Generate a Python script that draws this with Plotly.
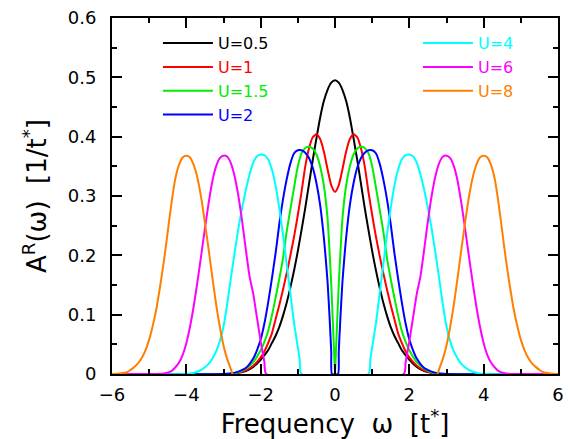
import plotly.graph_objects as go

# ---- data ----
labels = ["U=0.5", "U=1", "U=1.5", "U=2", "U=4", "U=6", "U=8"]
colors = ["#000000", "#ff0000", "#00ee00", "#0000ff", "#00ffff", "#ff00ff", "#ff7f00"]

w_u05 = [-6.0, -2.8, -2.6, -2.4, -2.2, -2.0, -1.8, -1.7, -1.6, -1.5, -1.4, -1.3, -1.2, -1.1, -1.0, -0.9, -0.8, -0.7, -0.6, -0.5, -0.4, -0.3, -0.2, -0.1,
         0.0, 0.1, 0.2, 0.3, 0.4, 0.5, 0.6, 0.7, 0.8, 0.9, 1.0, 1.1, 1.2, 1.3, 1.4, 1.5, 1.6, 1.7, 1.8, 2.0, 2.2, 2.4, 2.6, 2.8, 6.0]
a_u05 = [0.0, 0.0, 0.002, 0.005, 0.012, 0.024, 0.040, 0.052, 0.064, 0.079, 0.098, 0.120, 0.146, 0.175, 0.207, 0.243, 0.280, 0.320, 0.360, 0.397, 0.432, 0.460, 0.479, 0.491,
         0.495, 0.491, 0.479, 0.460, 0.432, 0.397, 0.360, 0.320, 0.280, 0.243, 0.207, 0.175, 0.146, 0.120, 0.098, 0.079, 0.064, 0.052, 0.040, 0.024, 0.012, 0.005, 0.002, 0.0, 0.0]

w_u1 = [-6.0, -2.8, -2.6, -2.4, -2.2, -2.0, -1.9, -1.8, -1.7, -1.6, -1.5, -1.4, -1.3, -1.2, -1.1, -1.0, -0.9, -0.8, -0.7, -0.6, -0.5, -0.4, -0.3, -0.2, -0.1,
        0.0, 0.1, 0.2, 0.3, 0.4, 0.5, 0.6, 0.7, 0.8, 0.9, 1.0, 1.1, 1.2, 1.3, 1.4, 1.5, 1.6, 1.7, 1.8, 1.9, 2.0, 2.2, 2.4, 2.6, 2.8, 6.0]
a_u1 = [0.0, 0.0, 0.002, 0.006, 0.014, 0.028, 0.038, 0.052, 0.068, 0.092, 0.116, 0.142, 0.170, 0.200, 0.232, 0.268, 0.307, 0.350, 0.380, 0.399, 0.404, 0.396, 0.375, 0.345, 0.318,
        0.307, 0.318, 0.345, 0.375, 0.396, 0.404, 0.399, 0.380, 0.350, 0.307, 0.268, 0.232, 0.200, 0.170, 0.142, 0.116, 0.092, 0.068, 0.052, 0.038, 0.028, 0.014, 0.006, 0.002, 0.0, 0.0]

w_u15 = [-6.0, -3.0, -2.8, -2.6, -2.4, -2.2, -2.0, -1.9, -1.8, -1.7, -1.6, -1.5, -1.4, -1.3, -1.2, -1.1, -1.0, -0.9, -0.8, -0.7, -0.6, -0.5, -0.4, -0.3, -0.2, -0.15, -0.1, -0.05, -0.02,
         0.0, 0.02, 0.05, 0.1, 0.15, 0.2, 0.3, 0.4, 0.5, 0.6, 0.7, 0.8, 0.9, 1.0, 1.1, 1.2, 1.3, 1.4, 1.5, 1.6, 1.7, 1.8, 1.9, 2.0, 2.2, 2.4, 2.6, 2.8, 3.0, 6.0]
a_u15 = [0.0, 0.0, 0.001, 0.003, 0.009, 0.020, 0.040, 0.054, 0.072, 0.098, 0.128, 0.160, 0.195, 0.240, 0.278, 0.315, 0.350, 0.372, 0.381, 0.383, 0.380, 0.370, 0.350, 0.318, 0.262, 0.210, 0.150, 0.075, 0.030,
         0.0, 0.030, 0.075, 0.150, 0.210, 0.262, 0.318, 0.350, 0.370, 0.380, 0.383, 0.381, 0.372, 0.350, 0.315, 0.278, 0.240, 0.195, 0.160, 0.128, 0.098, 0.072, 0.054, 0.040, 0.020, 0.009, 0.003, 0.001, 0.0, 0.0]

w_u2 = [-6.0, -3.0, -2.8, -2.6, -2.4, -2.2, -2.1, -2.0, -1.9, -1.8, -1.7, -1.6, -1.5, -1.4, -1.3, -1.2, -1.1, -1.0, -0.9, -0.8, -0.7, -0.6, -0.5, -0.4, -0.3, -0.25, -0.2, -0.15, -0.12, -0.1, -0.08,
        0.08, 0.1, 0.12, 0.15, 0.2, 0.25, 0.3, 0.4, 0.5, 0.6, 0.7, 0.8, 0.9, 1.0, 1.1, 1.2, 1.3, 1.4, 1.5, 1.6, 1.7, 1.8, 1.9, 2.0, 2.1, 2.2, 2.4, 2.6, 2.8, 3.0, 6.0]
a_u2 = [0.0, 0.0, 0.001, 0.004, 0.010, 0.026, 0.040, 0.058, 0.085, 0.120, 0.160, 0.203, 0.252, 0.294, 0.328, 0.355, 0.372, 0.377, 0.377, 0.373, 0.364, 0.348, 0.322, 0.285, 0.230, 0.195, 0.155, 0.100, 0.063, 0.035, 0.0,
        0.0, 0.035, 0.063, 0.100, 0.155, 0.195, 0.230, 0.285, 0.322, 0.348, 0.364, 0.373, 0.377, 0.377, 0.372, 0.355, 0.328, 0.294, 0.252, 0.203, 0.160, 0.120, 0.085, 0.058, 0.040, 0.026, 0.010, 0.004, 0.001, 0.0, 0.0]

w_u4 = [-6.0, -4.0, -3.8, -3.6, -3.4, -3.2, -3.1, -3.0, -2.9, -2.8, -2.7, -2.6, -2.5, -2.4, -2.3, -2.2, -2.1, -2.0, -1.9, -1.8, -1.7, -1.6, -1.5, -1.4, -1.3, -1.2, -1.1, -1.0, -0.95, -0.9,
        0.9, 0.95, 1.0, 1.1, 1.2, 1.3, 1.4, 1.5, 1.6, 1.7, 1.8, 1.9, 2.0, 2.1, 2.2, 2.3, 2.4, 2.5, 2.6, 2.7, 2.8, 2.9, 3.0, 3.1, 3.2, 3.4, 3.6, 3.8, 4.0, 6.0]
a_u4 = [0.0, 0.0, 0.002, 0.007, 0.017, 0.038, 0.055, 0.080, 0.118, 0.162, 0.205, 0.245, 0.280, 0.310, 0.336, 0.356, 0.367, 0.370, 0.369, 0.362, 0.345, 0.318, 0.280, 0.235, 0.185, 0.135, 0.085, 0.045, 0.025, 0.0,
        0.0, 0.025, 0.045, 0.085, 0.135, 0.185, 0.235, 0.280, 0.318, 0.345, 0.362, 0.369, 0.370, 0.367, 0.356, 0.336, 0.310, 0.280, 0.245, 0.205, 0.162, 0.118, 0.080, 0.055, 0.038, 0.017, 0.007, 0.002, 0.0, 0.0]

w_u6 = [-6.0, -4.8, -4.6, -4.4, -4.3, -4.2, -4.1, -4.0, -3.9, -3.8, -3.7, -3.6, -3.5, -3.4, -3.3, -3.2, -3.1, -3.0, -2.9, -2.8, -2.7, -2.6, -2.5, -2.4, -2.3, -2.2, -2.1, -2.0, -1.9, -1.85,
        1.85, 1.9, 2.0, 2.1, 2.2, 2.3, 2.4, 2.5, 2.6, 2.7, 2.8, 2.9, 3.0, 3.1, 3.2, 3.3, 3.4, 3.5, 3.6, 3.7, 3.8, 3.9, 4.0, 4.1, 4.2, 4.3, 4.4, 4.6, 4.8, 6.0]
a_u6 = [0.0, 0.0, 0.001, 0.005, 0.011, 0.019, 0.032, 0.052, 0.080, 0.115, 0.156, 0.200, 0.245, 0.288, 0.325, 0.350, 0.364, 0.368, 0.366, 0.355, 0.333, 0.300, 0.258, 0.210, 0.165, 0.135, 0.095, 0.055, 0.020, 0.0,
        0.0, 0.020, 0.055, 0.095, 0.135, 0.165, 0.210, 0.258, 0.300, 0.333, 0.355, 0.366, 0.368, 0.364, 0.350, 0.325, 0.288, 0.245, 0.200, 0.156, 0.115, 0.080, 0.052, 0.032, 0.019, 0.011, 0.005, 0.001, 0.0, 0.0]

w_u8 = [-6.0, -5.8, -5.6, -5.5, -5.4, -5.3, -5.2, -5.1, -5.0, -4.9, -4.8, -4.7, -4.6, -4.5, -4.4, -4.3, -4.2, -4.1, -4.0, -3.9, -3.8, -3.7, -3.6, -3.5, -3.4, -3.3, -3.2, -3.1, -3.0, -2.9, -2.8, -2.75,
        2.75, 2.8, 2.9, 3.0, 3.1, 3.2, 3.3, 3.4, 3.5, 3.6, 3.7, 3.8, 3.9, 4.0, 4.1, 4.2, 4.3, 4.4, 4.5, 4.6, 4.7, 4.8, 4.9, 5.0, 5.1, 5.2, 5.3, 5.4, 5.5, 5.6, 5.8, 6.0]
a_u8 = [0.0, 0.001, 0.003, 0.007, 0.012, 0.018, 0.027, 0.040, 0.058, 0.082, 0.112, 0.150, 0.192, 0.240, 0.288, 0.328, 0.352, 0.365, 0.368, 0.365, 0.352, 0.330, 0.297, 0.255, 0.210, 0.163, 0.118, 0.080, 0.048, 0.025, 0.008, 0.0,
        0.0, 0.008, 0.025, 0.048, 0.080, 0.118, 0.163, 0.210, 0.255, 0.297, 0.330, 0.352, 0.365, 0.368, 0.365, 0.352, 0.328, 0.288, 0.240, 0.192, 0.150, 0.112, 0.082, 0.058, 0.040, 0.027, 0.018, 0.012, 0.007, 0.003, 0.001, 0.0]

x_ticks = [-6, -4, -2, 0, 2, 4, 6]
x_tick_text = ["\u22126", "\u22124", "\u22122", "0", "2", "4", "6"]
y_ticks = [0, 0.1, 0.2, 0.3, 0.4, 0.5, 0.6]
y_tick_text = ["0", "0.1", "0.2", "0.3", "0.4", "0.5", "0.6"]

series = [(w_u05, a_u05), (w_u1, a_u1), (w_u15, a_u15), (w_u2, a_u2),
          (w_u4, a_u4), (w_u6, a_u6), (w_u8, a_u8)]

FONT = "DejaVu Sans, Verdana, sans-serif"
NB = "\u00a0"

fig = go.Figure()
for i, ((w, a), lab, col) in enumerate(zip(series, labels, colors)):
    fig.add_trace(go.Scatter(
        x=w, y=a, mode="lines",
        line=dict(color=col, width=2, shape="spline", smoothing=0.6),
        name=f'<span style="color:{col}">{lab}</span>',
        legend="legend" if i < 4 else "legend2",
        hoverinfo="skip",
    ))

axis_common = dict(
    showgrid=False, zeroline=False, showline=True, linecolor="black", linewidth=2,
    mirror="ticks", ticks="inside", ticklen=10, tickwidth=1.5, tickcolor="black",
    tickfont=dict(family=FONT, size=18, color="black"), automargin=False,
)

fig.update_xaxes(
    range=[-6, 6], tickvals=x_ticks, ticktext=x_tick_text, ticklabelstandoff=3,
    minor=dict(dtick=1, tick0=0, ticks="inside", ticklen=5, tickwidth=1.5, tickcolor="black"),
    title=dict(text=f"Frequency{NB}{NB}\u03c9{NB}{NB}[t<sup>*</sup>]",
               font=dict(family=FONT, size=26, color="black"), standoff=10),
    **axis_common,
)
fig.update_yaxes(
    range=[0, 0.6], tickvals=y_ticks, ticktext=y_tick_text, ticklabelstandoff=10,
    minor=dict(dtick=0.05, tick0=0, ticks="inside", ticklen=5, tickwidth=1.5, tickcolor="black"),
    title=dict(text=f"A<sup>R</sup>(\u03c9){NB}{NB}[1/t<sup>*</sup>]",
               font=dict(family=FONT, size=26, color="black"), standoff=14),
    **axis_common,
)

legend_common = dict(
    font=dict(family=FONT, size=16), bgcolor="rgba(0,0,0,0)", borderwidth=0,
    itemwidth=50, tracegroupgap=0, xanchor="left", yanchor="top",
    itemclick=False, itemdoubleclick=False,
)
fig.update_layout(
    width=570, height=439,
    margin=dict(l=112, r=12, t=18, b=65, autoexpand=False),
    paper_bgcolor="white", plot_bgcolor="white",
    showlegend=True,
    legend=dict(x=0.103, y=0.977, **legend_common),
    legend2=dict(x=0.686, y=0.977, **legend_common),
)

fig.write_html("out.html", config={"displayModeBar": False},
               post_script="document.body.style.margin='0';")
